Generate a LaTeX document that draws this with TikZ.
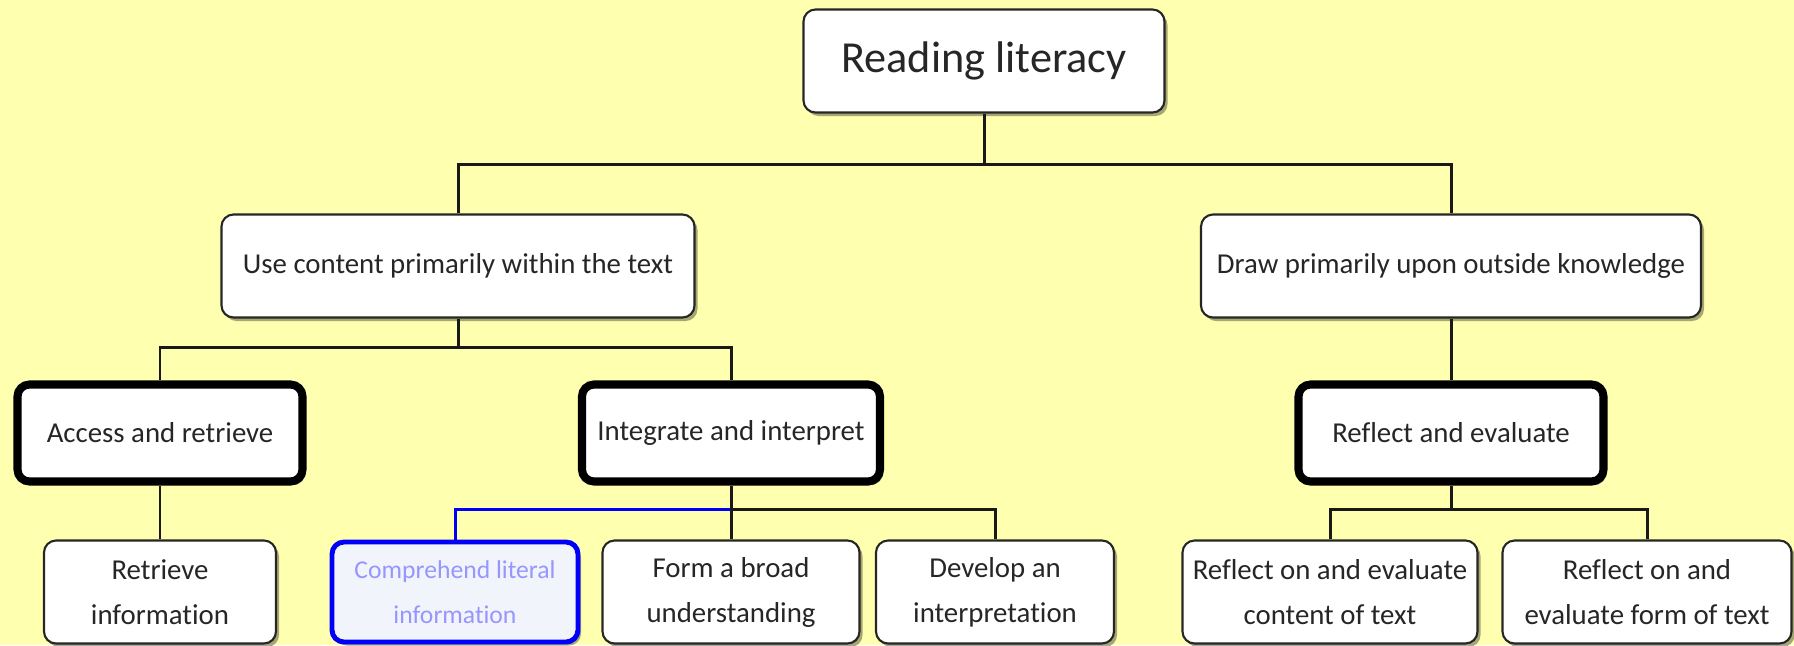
\documentclass[tikz,border=0pt]{standalone}
\usepackage{fontspec}
\setmainfont{Carlito}[Ligatures=NoCommon]
\usepackage{xcolor}
\usetikzlibrary{positioning,shadows}

\definecolor{bgyellow}{RGB}{255,255,176}
\definecolor{litblue}{RGB}{0,0,250}
\definecolor{litfill}{RGB}{242,244,251}
\definecolor{littext}{RGB}{150,150,255}

\begin{document}
\begin{tikzpicture}[
			x=0.1mm, y=-0.1mm,
			box/.style={
				draw=black!85, fill=white, rectangle, rounded corners=1.2mm, align=center,
				line width=0.6pt, inner sep=0pt, text=black!85,
				font=\fontsize{8.2}{12.8}\selectfont,
				minimum height=10.3mm,
				drop shadow={shadow xshift=0.3mm, shadow yshift=-0.35mm, fill=black, opacity=0.35}
			},
			rootbox/.style={box, font=\fontsize{12.6}{15}\selectfont},
			keybox/.style={box, draw=black, line width=2.3pt, minimum height=9.7mm},
			litbox/.style={box, draw=litblue, line width=1.4pt, fill=litfill, text=littext,
				font=\fontsize{7.3}{12.8}\selectfont, minimum height=10mm},
			link/.style={draw=black!90, line width=0.85pt},
			litlink/.style={draw=litblue, line width=0.85pt}
			]
			
			%==================== canvas ====================
			\useasboundingbox (0,0) rectangle (1794,645);
			\clip (0,0) rectangle (1794,645);
			\fill[bgyellow] (0,0) rectangle (1794,645);
			
			%==================== top ====================
			\node[rootbox, minimum width=36.1mm, minimum height=10.3mm] (reading) at (984,61) {Reading literacy};
			
			%==================== text / outside ====================
			\node[box, minimum width=47.3mm] (within) at (458,266) {Use content primarily within the text};
			\node[box, minimum width=50mm] (outside) at (1451,266) {Draw primarily upon outside knowledge};
			
			%==================== aspects ====================
			\node[keybox, minimum width=28.5mm] (access) at (160,433) {Access and retrieve};
			\node[keybox, minimum width=29.8mm] (integrate) at (731,433) {Integrate and interpret};
			\node[keybox, minimum width=30.5mm] (reflect) at (1451,433) {Reflect and evaluate};
			
			%==================== sub-aspects ====================
			\node[box, minimum width=23.2mm] (retrieve) at (160,592) {Retrieve\\information};
			\node[litbox, minimum width=24.6mm] (literal) at (455,592) {Comprehend literal\\information};
			\node[box, minimum width=25.7mm] (broad) at (731,592) {Form a broad\\understanding};
			\node[box, minimum width=23.8mm] (develop) at (995,592) {Develop an\\interpretation};
			\node[box, minimum width=29.5mm] (content) at (1330,592) {Reflect on and evaluate\\content of text};
			\node[box, minimum width=28.9mm] (form) at (1647,592) {Reflect on and\\evaluate form of text};
			
			%==================== bus lines ====================
			\coordinate (bustop) at (984,164);
			\coordinate (busmid) at (458,347);
			\coordinate (buslow) at (731,509);
			
			%==================== connectors (orthogonal) ====================
			\draw[link] (reading.south) -- (bustop);
			\draw[link] (within.north) -- (within.north |- bustop) -- (outside.north |- bustop) -- (outside.north);
			\draw[link] (within.south) -- (busmid);
			\draw[link] (access.north) -- (access.north |- busmid) -- (integrate.north |- busmid) -- (integrate.north);
			\draw[link] (outside.south) -- (reflect.north);
			\draw[link] (access.south) -- (retrieve.north);
			\draw[litlink] (integrate.south |- buslow) -| (literal.north);
			\draw[link] (integrate.south) -- (broad.north);
			\draw[link] (integrate.south |- buslow) -| (develop.north);
			\draw[link] (reflect.south) -- (reflect.south |- buslow);
			\draw[link] (content.north) -- (content.north |- buslow) -- (form.north |- buslow) -- (form.north);
			
		\end{tikzpicture}
\end{document}
